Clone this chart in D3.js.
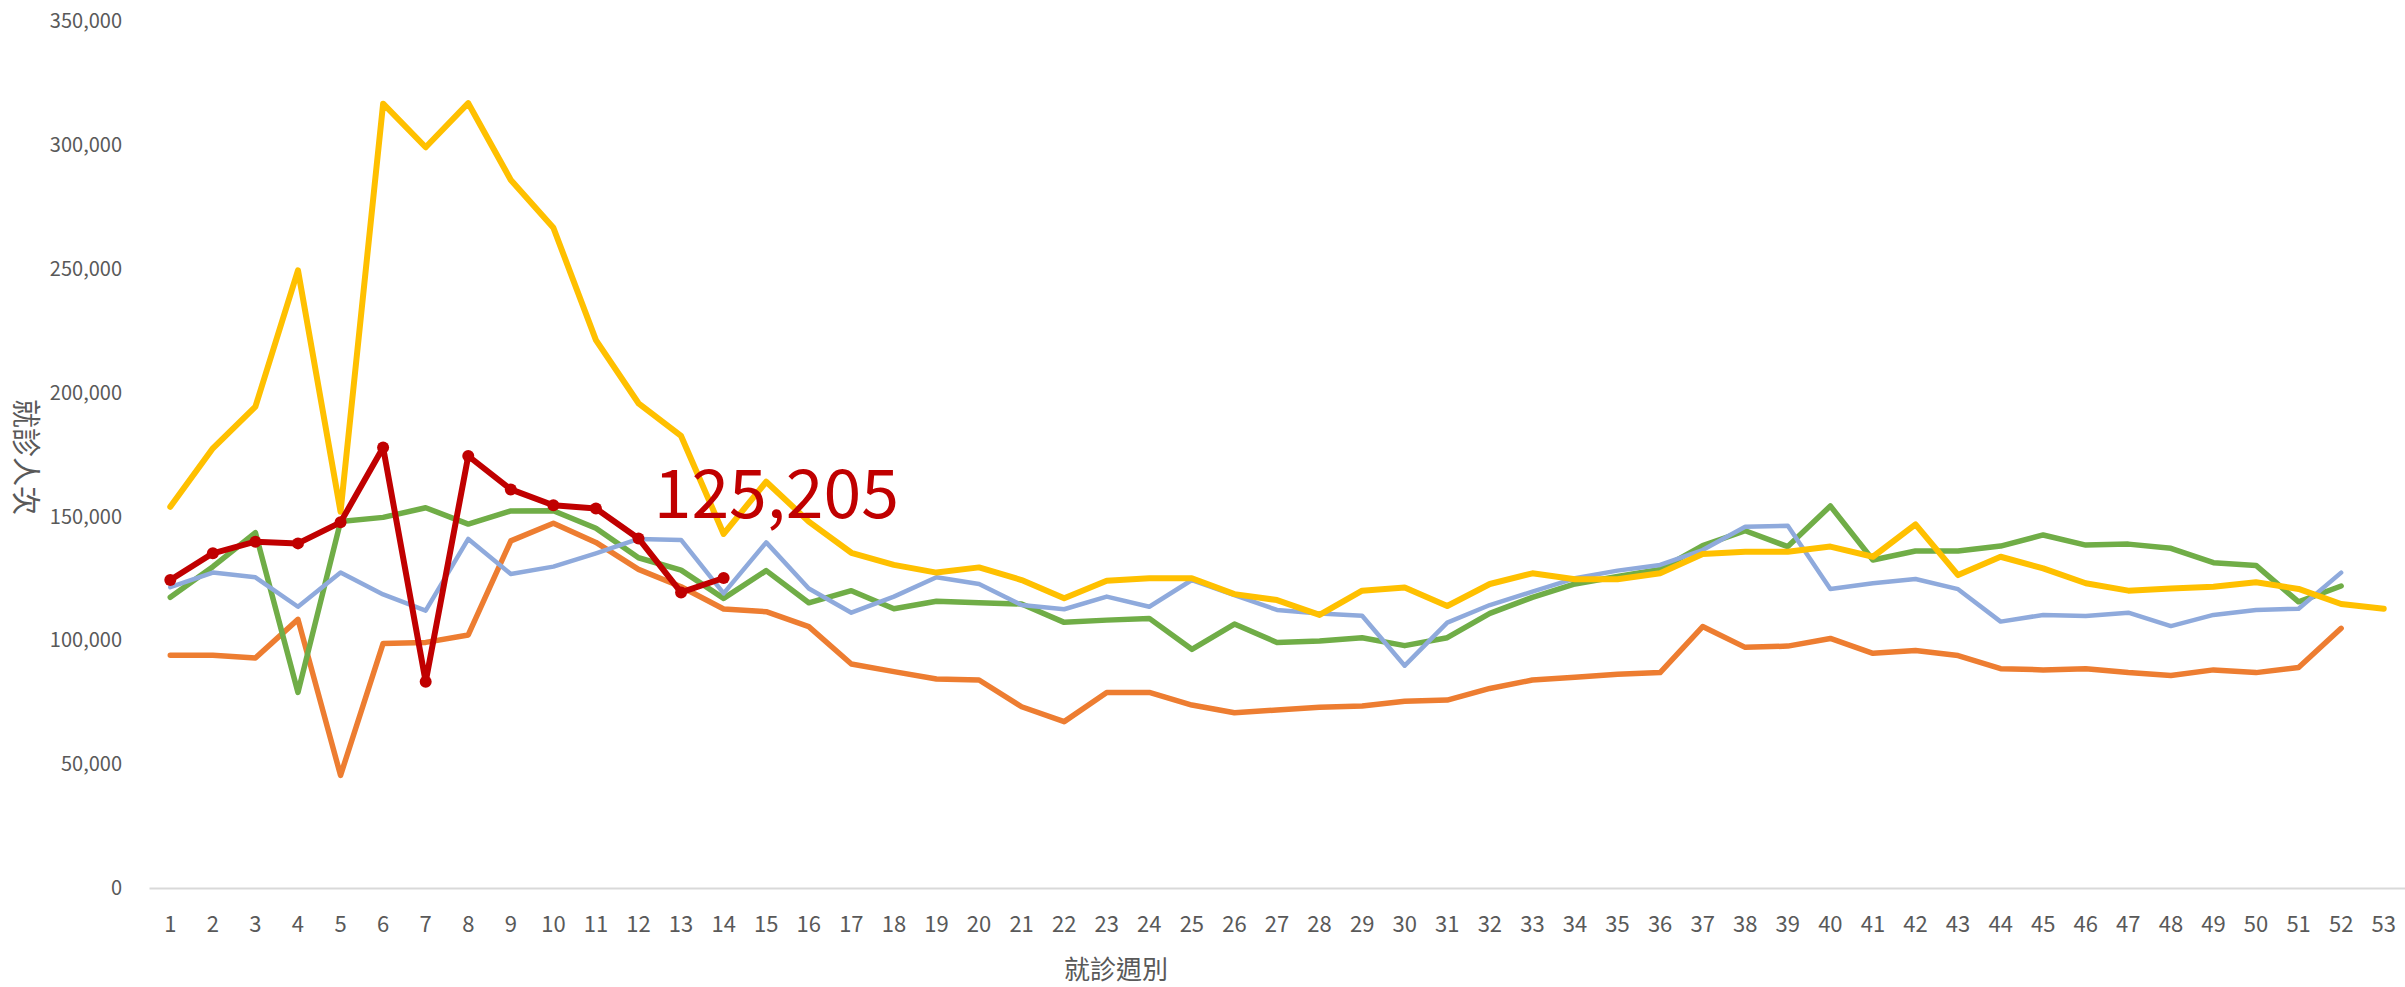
<!DOCTYPE html>
<html>
<head>
<meta charset="utf-8">
<script src="https://cdn.jsdelivr.net/npm/d3@7"></script>
<style>
  body { margin: 0; background: #fff; }
  svg text { font-family: "Noto Sans CJK TC", "Noto Sans", sans-serif; }
</style>
</head>
<body>
<div id="chart"></div>
<script>
// weekly visit counts

var weeks = d3.range(1, 54);

var yTicks = [0, 50000, 100000, 150000, 200000, 250000, 300000, 350000];

// yellow series (53 weeks)
var seriesYellow = [154000, 177600, 194400, 249500, 152000, 316800, 299200, 317000, 286000, 266700,
    221300, 195800, 182600, 143000, 164100, 148000, 135400, 130500, 127400, 129500,
    124400, 117000, 124100, 125100, 125100, 118700, 116300, 110300, 120100, 121400,
    113900, 122800, 127100, 124700, 124700, 127100, 134900, 135800, 135800, 137900,
    133800, 146900, 126400, 133800, 129100, 123100, 120100, 121000, 121700, 123500,
    120800, 114700, 112800];

// orange series (52 weeks)
var seriesOrange = [94000, 94000, 92900, 108500, 45500, 98800, 99200, 102200, 140200, 147300,
    139600, 128700, 121700, 112700, 111600, 105600, 90500, 87400, 84400, 84000,
    73200, 67200, 79000, 79000, 73900, 70800, 71900, 73000, 73500, 75400,
    75900, 80600, 84000, 85100, 86300, 87000, 105600, 97200, 97700, 100800,
    94800, 95900, 93900, 88600, 88100, 88600, 87000, 85800, 88100, 87000,
    89100, 104900];

// green series (52 weeks)
var seriesGreen = [117400, 129800, 143500, 79000, 148000, 149700, 153600, 147000, 152300, 152400,
    145300, 133400, 128400, 117000, 128200, 115200, 120100, 112800, 115800, 115200,
    114700, 107300, 108200, 108900, 96400, 106600, 99200, 99800, 101100, 97900,
    101100, 110900, 117400, 122800, 125800, 128700, 138300, 144300, 137900, 154300,
    132500, 136100, 136100, 138100, 142600, 138500, 138900, 137200, 131400, 130300,
    115600, 122000];

// light blue series (52 weeks)
var seriesBlue = [121500, 127400, 125500, 113600, 127400, 118600, 112000, 141000, 126800, 129800,
    135200, 141000, 140600, 119000, 139600, 121000, 111200, 117700, 125500, 122800,
    114300, 112600, 117700, 113600, 124400, 118300, 112300, 110900, 110000, 89800,
    107200, 114300, 119700, 125100, 128200, 130500, 136500, 145900, 146300, 120800,
    123100, 124800, 120700, 107600, 110300, 109900, 111200, 105800, 110300, 112300,
    112800, 127400];

// current year, red with markers (14 weeks so far)
var seriesRed = [124400, 135200, 139900, 139200, 147700, 177900, 83300, 174500, 161000, 154600,
    153300, 141200, 119400, 125205];

var width = 2405,
    height = 987;

var svg = d3.select("#chart").append("svg")
    .attr("width", width)
    .attr("height", height);

var x = d3.scaleBand()
    .domain(weeks)
    .range([149, 2405]);

var y = d3.scaleLinear()
    .domain([0, 350000])
    .range([888, 21.5]);

function cx(i) { return x(weeks[i]) + x.bandwidth() / 2; }

// axes
var yAxis = svg.append("g")
    .attr("transform", "translate(149,0)")
    .call(d3.axisLeft(y).tickValues(yTicks).tickFormat(d3.format(",")).tickSize(0).tickPadding(27));
yAxis.select(".domain").remove();
yAxis.selectAll("text")
    .style("font-size", "20px")
    .attr("fill", "#595959");

var xAxis = svg.append("g")
    .attr("transform", "translate(0,888)")
    .call(d3.axisBottom(x).tickSize(0).tickPadding(28));
xAxis.select(".domain")
    .attr("stroke", "#d9d9d9")
    .attr("stroke-width", 2);
xAxis.selectAll("text")
    .style("font-size", "22px")
    .attr("fill", "#595959");

// axis titles
svg.append("text")
    .attr("x", 1116)
    .attr("y", 967)
    .attr("text-anchor", "middle")
    .attr("dominant-baseline", "central")
    .attr("fill", "#595959")
    .style("font-size", "26px")
    .text("就診週別");

svg.append("text")
    .attr("transform", "translate(28,457) rotate(90)")
    .attr("text-anchor", "middle")
    .attr("dominant-baseline", "central")
    .attr("fill", "#595959")
    .style("font-size", "29px")
    .text("就診人次");

// lines
var line = d3.line()
    .x(function (d, i) { return cx(i); })
    .y(function (d) { return y(d); });

var series = [
    { values: seriesOrange, color: "#ED7D31", w: 5.5 },
    { values: seriesGreen, color: "#70AD47", w: 5.5 },
    { values: seriesBlue, color: "#8FAADC", w: 4.5 },
    { values: seriesYellow, color: "#FFC000", w: 6 },
    { values: seriesRed, color: "#C00000", w: 6 }
];

svg.selectAll(".series")
    .data(series)
    .enter().append("path")
    .attr("class", "series")
    .attr("fill", "none")
    .attr("stroke", function (d) { return d.color; })
    .attr("stroke-width", function (d) { return d.w; })
    .attr("stroke-linejoin", "round")
    .attr("stroke-linecap", "round")
    .attr("d", function (d) { return line(d.values); });

svg.selectAll(".dot")
    .data(seriesRed)
    .enter().append("circle")
    .attr("class", "dot")
    .attr("cx", function (d, i) { return cx(i); })
    .attr("cy", function (d) { return y(d); })
    .attr("r", 6)
    .attr("fill", "#C00000");

// label for the latest value
var last = seriesRed.length - 1;
svg.append("text")
    .attr("x", cx(last) - 70)
    .attr("y", y(seriesRed[last]) - 60)
    .attr("fill", "#C00000")
    .style("font-size", "68px")
    .text(d3.format(",")(seriesRed[last]));
</script>
</body>
</html>
